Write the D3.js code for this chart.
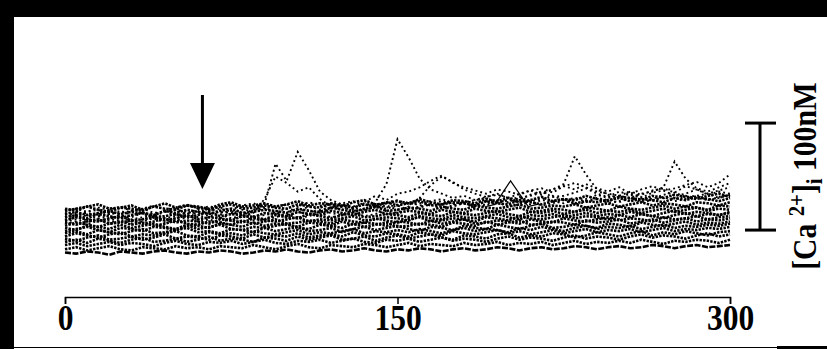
<!DOCTYPE html>
<html>
<head>
<meta charset="utf-8">
<script src="https://cdn.jsdelivr.net/npm/d3@7"></script>
<style>
  body { margin: 0; background: #fff; }
</style>
</head>
<body>
<div id="chart"></div>
<script>
// time points (s) shared by all cell traces
const timeSec = [0,5,10,15,20,25,30,35,40,45,50,55,60,65,70,75,80,85,90,95,100,105,110,115,120,125,130,135,140,145,150,155,160,165,170,175,180,185,190,195,200,205,210,215,220,225,230,235,240,245,250,255,260,265,270,275,280,285,290,295,300];

// [Ca2+]i (nM) of the non-responding cells
const cell01 = [35,34,36,35,33,36,35,34,36,37,35,34,36,35,37,36,34,35,37,36,38,36,35,37,38,36,37,39,37,36,38,37,39,38,36,38,39,37,38,40,39,37,39,40,38,39,41,40,38,40,41,39,40,42,41,39,41,42,40,41,42];
const cell02 = [38,40,37,39,41,38,37,40,39,38,41,39,40,38,41,40,39,42,40,38,41,43,40,39,42,41,40,43,42,40,42,44,41,43,42,41,44,42,43,45,42,44,43,45,42,44,46,43,45,44,46,44,47,45,43,46,45,47,46,44,47];
const cell03 = [42,44,41,43,45,42,44,43,41,44,46,43,42,45,44,46,43,45,47,44,43,46,45,47,44,46,48,45,44,47,46,48,45,47,49,46,48,47,45,48,50,47,49,48,46,49,51,48,50,49,47,50,52,49,51,50,48,51,53,50,52];
const cell04 = [45,47,44,48,46,44,47,49,45,46,48,45,47,50,46,48,47,45,49,48,46,50,47,49,51,47,48,50,46,49,51,48,50,52,49,47,51,50,48,52,53,49,51,50,53,52,49,51,54,52,50,53,55,51,54,52,55,53,51,54,55];
const cell05 = [48,46,49,51,47,48,50,47,49,52,48,50,49,47,51,50,48,52,49,51,50,53,49,51,52,50,54,51,50,53,52,50,54,52,51,55,53,52,54,56,53,55,52,54,56,53,55,57,54,56,55,57,54,56,58,55,57,56,58,57,59];
const cell06 = [50,53,51,49,52,54,50,52,51,53,55,51,50,54,52,53,51,55,53,52,54,56,52,54,53,55,57,53,55,54,56,54,57,55,53,56,58,55,57,56,54,58,56,59,57,55,58,60,57,59,58,60,57,59,61,58,60,59,61,60,62];
const cell07 = [53,55,52,56,54,52,55,57,53,54,56,58,54,55,53,57,56,54,58,55,57,59,55,56,58,54,57,59,56,58,60,57,55,59,58,56,60,58,57,61,59,57,60,62,58,59,61,60,58,62,61,59,63,61,60,62,64,61,63,62,64];
const cell08 = [55,57,59,56,54,58,57,55,59,58,56,60,57,59,61,57,56,59,58,60,62,58,57,61,60,58,62,59,61,63,59,60,62,61,59,63,62,60,64,61,63,65,61,62,64,63,61,65,63,64,66,62,64,66,63,65,67,64,66,65,67];
const cell09 = [58,56,60,59,57,61,58,60,62,59,57,61,60,58,62,61,59,63,60,62,61,59,63,62,60,64,61,63,62,60,64,63,61,65,62,64,66,62,63,65,64,62,66,64,63,67,65,64,66,68,65,67,66,64,68,66,67,69,66,68,69];
const cell10 = [60,63,61,59,62,64,61,63,60,62,65,62,61,64,63,61,65,62,64,66,62,63,65,64,62,66,64,63,67,65,63,66,68,64,65,67,66,64,68,67,65,69,67,66,68,70,67,69,68,66,70,68,71,69,67,70,72,69,71,70,72];
const cell11 = [63,61,64,66,62,63,65,62,64,67,63,65,64,62,66,65,63,67,65,64,66,68,64,66,65,67,69,65,66,68,67,65,69,67,66,70,68,67,69,71,68,66,70,69,71,68,70,72,69,71,70,73,71,69,72,74,71,73,72,70,73];
const cell12 = [65,68,66,64,67,69,65,66,68,65,67,70,66,68,67,65,69,68,66,70,68,67,71,69,67,70,72,68,69,71,70,68,72,70,69,73,71,70,72,74,71,69,73,72,74,71,73,75,72,74,73,75,72,74,76,73,75,77,74,76,75];
const cell13 = [68,70,67,71,69,67,70,72,68,69,71,68,70,73,69,71,70,68,72,71,69,73,71,70,74,72,70,73,75,71,72,74,73,71,75,73,72,76,74,73,75,77,73,74,76,75,73,77,76,74,78,76,75,77,79,76,78,77,75,79,78];
const cell14 = [71,73,70,72,74,71,73,72,70,74,72,75,73,71,74,76,72,73,75,74,72,76,74,73,77,75,73,76,78,74,75,77,76,74,78,76,75,79,77,76,78,80,76,77,79,78,80,77,79,81,78,80,82,79,81,80,78,82,81,79,82];
const cell15 = [74,76,78,75,73,77,76,74,78,76,75,79,77,75,78,80,76,77,79,77,76,80,78,77,81,79,77,80,78,82,79,81,83,79,80,82,81,79,83,81,80,84,82,80,83,85,81,83,82,84,86,83,85,84,82,86,84,87,85,83,86];
const cell16 = [76,74,78,80,76,77,79,75,78,81,77,79,78,76,80,82,78,79,81,78,80,83,79,81,80,78,82,84,80,81,83,81,85,82,80,84,83,81,85,83,86,82,84,87,83,85,84,88,85,83,87,86,84,88,86,89,87,85,88,90,87];

// [Ca2+]i (nM) of the cells with transients
const cell17 = [72,70,73,75,71,72,74,76,72,73,75,73,71,74,76,73,75,74,80,118,102,129,112,92,84,80,78,81,79,77,80,82,79,81,83,80,82,79,83,81,84,82,80,84,83,81,85,83,86,84,82,86,85,83,87,85,88,86,84,87,89];
const cell18 = [66,68,65,69,67,70,66,68,71,67,69,72,68,70,67,71,73,69,70,72,69,73,71,74,72,70,75,73,82,99,141,124,104,94,90,86,88,84,87,90,86,85,89,92,87,88,91,95,90,87,92,89,86,91,93,88,90,94,89,92,90];
const cell19 = [70,72,69,71,73,70,68,72,71,74,70,72,75,71,73,72,70,74,76,72,73,75,74,72,76,78,74,75,77,79,75,76,78,80,77,79,81,78,80,84,82,86,88,91,94,99,125,108,94,89,86,90,87,85,89,91,87,88,90,86,89];
const cell20 = [74,76,73,77,75,78,74,76,79,75,77,80,76,78,77,75,79,81,77,78,80,78,82,79,77,81,83,79,80,82,84,80,81,83,85,81,82,84,86,82,84,87,83,85,88,84,86,85,89,86,88,86,90,92,96,120,104,95,92,96,100];
const cell21 = [68,70,72,69,71,74,70,72,69,73,75,71,73,76,72,74,71,75,77,73,76,74,78,75,77,80,76,82,88,84,90,92,96,102,107,100,96,93,90,94,92,89,93,95,91,97,94,99,95,92,96,90,94,97,93,95,98,101,96,100,108];
const cell22 = [64,66,63,67,65,68,64,66,69,65,67,70,66,68,71,67,69,72,85,106,100,92,96,85,78,75,77,74,78,76,79,75,77,80,76,78,81,77,79,82,78,80,83,79,81,84,80,82,85,81,83,86,82,84,87,83,85,88,84,86,89];
const cell23 = [62,64,61,65,63,66,62,64,67,63,65,68,64,66,63,67,69,65,66,68,71,67,69,72,68,70,73,69,71,74,72,78,86,98,106,101,94,90,87,89,86,90,93,89,94,97,100,96,92,90,88,92,89,93,95,91,97,94,90,93,96];

// short burst plotted as a solid line
const burstTime = [190, 194, 201, 209, 213];
const burstVals = [78, 80, 102, 78, 80];

const quietCells = [cell01,cell02,cell03,cell04,cell05,cell06,cell07,cell08,cell09,cell10,cell11,cell12,cell13,cell14,cell15,cell16];
const activeCells = [cell17,cell18,cell19,cell20,cell21,cell22,cell23];

const xTicks = [0, 150, 300];
const stimTime = 62;          // arrow: time of stimulus (s)
const scaleBarNM = [56, 156]; // 100 nM calibration bar

const width = 827, height = 349;

const svg = d3.select("#chart").append("svg")
  .attr("width", width)
  .attr("height", height);

svg.append("rect").attr("width", width).attr("height", height).attr("fill", "#fff");

// black frame pieces of the scanned figure
svg.append("rect").attr("x", 0).attr("y", 0).attr("width", 14).attr("height", height).attr("fill", "#000");
svg.append("rect").attr("x", 0).attr("y", 0).attr("width", width).attr("height", 17).attr("fill", "#000");
svg.append("line").attr("x1", 14).attr("x2", 777).attr("y1", 347.5).attr("y2", 347.5).attr("stroke", "#000").attr("stroke-width", 1);
svg.append("rect").attr("x", 777).attr("y", 346).attr("width", 50).attr("height", 3).attr("fill", "#000");

const x = d3.scaleLinear().domain([0, 300]).range([65, 730]);
const y = d3.scaleLinear().domain([0, 100]).range([290, 183]);

const line = d3.line()
  .x((d, i) => x(timeSec[i]))
  .y(d => y(d));

svg.append("g").selectAll("path")
  .data(quietCells)
  .join("path")
  .attr("d", line)
  .attr("fill", "none")
  .attr("stroke", "#000")
  .attr("stroke-width", 2.6)
  .attr("stroke-dasharray", (d, i) => i === 0 ? "6,1.5" : "2.4,1.2");

svg.append("g").selectAll("path")
  .data(activeCells)
  .join("path")
  .attr("d", line)
  .attr("fill", "none")
  .attr("stroke", "#000")
  .attr("stroke-width", 1.9)
  .attr("stroke-dasharray", "1.9,3");

svg.append("path")
  .datum(burstVals)
  .attr("d", d3.line().x((d, i) => x(burstTime[i])).y(d => y(d)))
  .attr("fill", "none")
  .attr("stroke", "#000")
  .attr("stroke-width", 1.2);

// time axis
const axis = svg.append("g")
  .attr("transform", "translate(0,297)")
  .call(d3.axisBottom(x).tickValues(xTicks).tickSize(7).tickSizeOuter(7).tickFormat(d3.format("d")));
axis.select(".domain").attr("stroke-width", 1.5);
axis.selectAll(".tick line").attr("stroke-width", 1.5);
axis.selectAll(".tick text")
  .attr("y", 0).attr("dy", null)
  .attr("transform", "translate(0,33) scale(0.9,1)")
  .attr("font-family", "'Liberation Serif', 'Times New Roman', serif")
  .attr("font-weight", "bold")
  .attr("font-size", 35)
  .attr("fill", "#000");

// stimulus arrow
const ax = x(stimTime);
svg.append("line")
  .attr("x1", ax).attr("x2", ax).attr("y1", 95).attr("y2", 166)
  .attr("stroke", "#000").attr("stroke-width", 3);
svg.append("path")
  .attr("d", `M${ax - 12.5},163L${ax + 12.5},163L${ax},189Z`)
  .attr("fill", "#000");

// calibration bar
const barX = 760;
svg.append("line")
  .attr("x1", barX).attr("x2", barX)
  .attr("y1", y(scaleBarNM[0])).attr("y2", y(scaleBarNM[1]))
  .attr("stroke", "#000").attr("stroke-width", 3);
scaleBarNM.forEach(v => {
  svg.append("line")
    .attr("x1", barX - 15).attr("x2", barX + 16)
    .attr("y1", y(v)).attr("y2", y(v))
    .attr("stroke", "#000").attr("stroke-width", 3);
});

const label = svg.append("text")
  .attr("transform", "translate(816,176) rotate(-90) scale(0.87,1)")
  .attr("text-anchor", "middle")
  .attr("font-family", "'Liberation Serif', 'Times New Roman', serif")
  .attr("font-weight", "bold")
  .attr("font-size", 34)
  .attr("fill", "#000");
label.append("tspan").text("[Ca ");
label.append("tspan").attr("font-size", 24).attr("dy", -12).text("2+");
label.append("tspan").attr("dy", 12).text("]");
label.append("tspan").attr("font-size", 24).attr("dy", 6).text("i");
label.append("tspan").attr("dy", -6).text(" 100nM");
</script>
</body>
</html>
